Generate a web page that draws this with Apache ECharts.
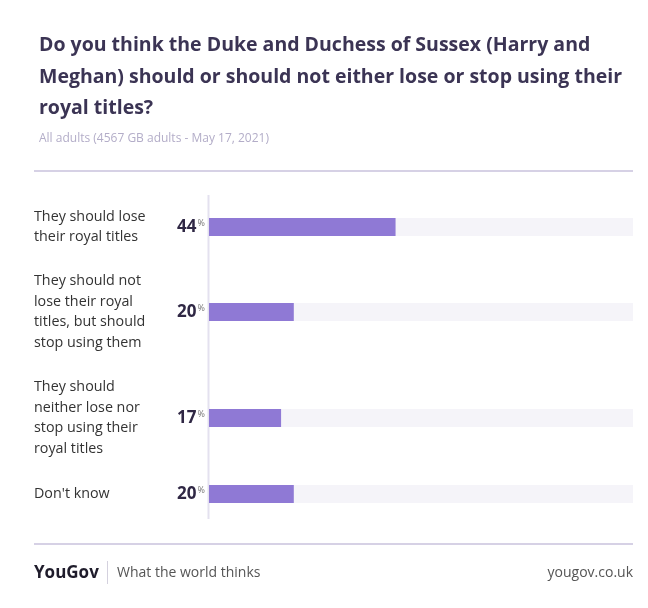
<!DOCTYPE html>
<html><head><meta charset="utf-8">
<script src="https://cdn.jsdelivr.net/npm/echarts@6/dist/echarts.min.js"></script>
<style>html,body{margin:0;padding:0;background:#fff}#c{width:648px;height:608px}</style>
</head><body><div id="c"></div>
<script>
const categories = [
  "They should lose\ntheir royal titles",
  "They should not\nlose their royal\ntitles, but should\nstop using them",
  "They should\nneither lose nor\nstop using their\nroyal titles",
  "Don't know"
];
const values = [44, 20, 17, 20];
const axisMax = 100;

const FONT = '"Open Sans", Lato, sans-serif';
const gridTops = [218, 303, 409, 485];
const barH = 18;

const grids = [], xAxes = [], yAxes = [], series = [];
categories.forEach((cat, i) => {
  grids.push({left: 209, right: 15, top: gridTops[i], height: barH});
  xAxes.push({type: 'value', gridIndex: i, min: 0, max: axisMax, show: false});
  yAxes.push({
    type: 'category', gridIndex: i, data: [cat],
    axisLine: {show: false}, axisTick: {show: false},
    axisLabel: {
      align: 'left', margin: 175, color: '#333333', fontFamily: FONT,
      fontSize: 14.3, lineHeight: 20.5
    }
  });
  series.push({
    type: 'bar', xAxisIndex: i, yAxisIndex: i, data: [values[i]],
    barWidth: barH, silent: true,
    itemStyle: {color: '#8f79d5'},
    showBackground: true,
    backgroundStyle: {color: '#f5f4f9'},
    label: {
      show: true, position: 'left', distance: 4,
      formatter: p => '{v|' + p.value + '}{p|%}',
      rich: {
        v: {fontFamily: FONT, fontWeight: 'bold', fontSize: 17, color: '#2f2744'},
        p: {fontFamily: FONT, fontSize: 9, color: '#777', verticalAlign: 'top', padding: [0,0,8,1]}
      }
    }
  });
});

const chart = echarts.init(document.getElementById('c'), null, {renderer: 'canvas'});
chart.setOption({
  animation: false,
  backgroundColor: '#ffffff',
  grid: grids, xAxis: xAxes, yAxis: yAxes, series: series,
  title: [
    {
      text: 'Do you think the Duke and Duchess of Sussex (Harry and\nMeghan) should or should not either lose or stop using their\nroyal titles?',
      left: 34, top: 25,
      textStyle: {fontFamily: FONT, fontWeight: 'bold', fontSize: 19.5, lineHeight: 31.5, color: '#3b3454'}
    },
    {
      text: 'All adults (4567 GB adults - May 17, 2021)',
      left: 34, top: 128,
      textStyle: {fontFamily: FONT, fontWeight: 'normal', fontSize: 12, color: '#b3adc8'}
    }
  ],
  graphic: [
    {type: 'line', shape: {x1: 34, y1: 171, x2: 633, y2: 171}, style: {stroke: '#c8c2dd', lineWidth: 1.5}},
    {type: 'line', shape: {x1: 208.5, y1: 195, x2: 208.5, y2: 519}, style: {stroke: '#e4e1ef', lineWidth: 2}},
    {type: 'line', shape: {x1: 34, y1: 544, x2: 633, y2: 544}, style: {stroke: '#c8c2dd', lineWidth: 1.5}},
    {type: 'text', left: 34, top: 565, style: {text: 'YouGov', fontFamily: FONT, fontWeight: 'bold', fontSize: 17, fill: '#1f1c2b'}},
    {type: 'line', shape: {x1: 107.5, y1: 561, x2: 107.5, y2: 584}, style: {stroke: '#d4d1de', lineWidth: 1}},
    {type: 'text', left: 117, top: 566, style: {text: 'What the world thinks', fontFamily: FONT, fontSize: 14, fill: '#555555'}},
    {type: 'text', right: 15, top: 566, style: {text: 'yougov.co.uk', fontFamily: FONT, fontSize: 14, fill: '#555555', align: 'right'}}
  ]
});
</script></body></html>
